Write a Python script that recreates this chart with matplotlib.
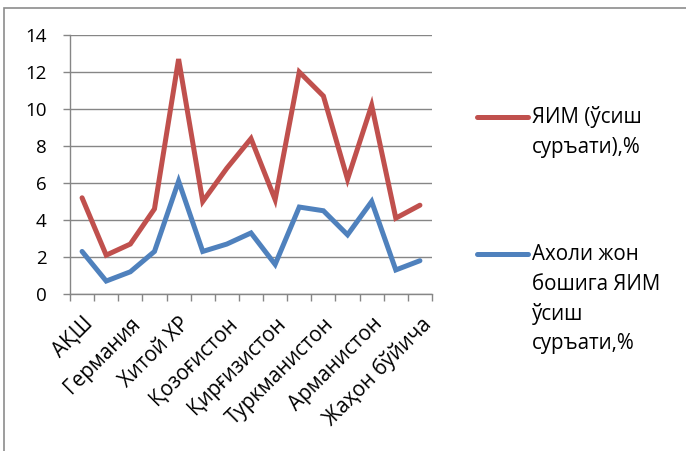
import matplotlib
matplotlib.use("Agg")
import matplotlib.pyplot as plt
from matplotlib.lines import Line2D
from matplotlib.patches import Rectangle
import numpy as np

plt.rcParams['font.family'] = ['Open Sans', 'DejaVu Sans']

# ---- data ----
n_points = 15
gdp_growth = [5.2, 2.1, 2.7, 4.6, 12.7, 5.0, 6.8, 8.4, 5.1, 12.0, 10.7, 6.2, 10.2, 4.1, 4.8]
gdp_pc_growth = [2.3, 0.7, 1.2, 2.3, 6.1, 2.3, 2.7, 3.3, 1.6, 4.7, 4.5, 3.2, 5.0, 1.3, 1.8]
shown_labels = ["АҚШ", "Германия", "Хитой ХР", "Қозоғистон", "Қирғизистон",
                "Туркманистон", "Арманистон", "Жаҳон бўйича"]
series_names = ["ЯИМ (ўсиш\nсуръати),%", "Ахоли жон\nбошига ЯИМ\nўсиш\nсуръати,%"]
y_ticks = [0, 2, 4, 6, 8, 10, 12, 14]

RED = "#C0504D"
BLUE = "#4F81BD"
GRID = "#868686"
FS_Y = 13.5
FS = 14.8

W, H = 686, 451
fig = plt.figure(figsize=(W / 100, H / 100), dpi=100)
ax = fig.add_axes([70 / W, 1 - 294 / H, (432 - 70) / W, (294 - 35) / H])

x = np.arange(n_points)
ax.plot(x, gdp_growth, color=RED, lw=3.6, solid_capstyle='round', solid_joinstyle='miter', zorder=3)
ax.plot(x, gdp_pc_growth, color=BLUE, lw=3.6, solid_capstyle='round', solid_joinstyle='miter', zorder=3)

ax.set_xlim(-0.5, n_points - 0.5)
ax.set_ylim(0, 14)
ax.set_yticks(y_ticks)
ax.set_yticklabels([str(v) for v in y_ticks], fontsize=FS_Y)
ax.yaxis.grid(True, color=GRID, lw=1.0)
ax.set_axisbelow(True)

# boundary ticks (major) without labels, category label ticks (minor)
ax.set_xticks(np.arange(-0.5, n_points, 1.0))
ax.set_xticklabels([])
ax.set_xticks(x[::2], minor=True)
ax.set_xticklabels(shown_labels, minor=True, rotation=45, ha='right',
                   rotation_mode='anchor', fontsize=FS)
ax.tick_params(axis='x', which='minor', length=0, pad=14)
ax.tick_params(axis='x', which='major', length=5, width=1.0, color=GRID, direction='out')
ax.tick_params(axis='y', length=5, width=1.0, color=GRID, direction='out', pad=12)

for s in ['top', 'right']:
    ax.spines[s].set_visible(False)
for s in ['left', 'bottom']:
    ax.spines[s].set_color(GRID)
    ax.spines[s].set_linewidth(1.0)

# outer chart frame (partially visible)
fig.add_artist(Rectangle((4 / W, -0.2), 1.2, 1.2 - 8 / H, transform=fig.transFigure,
                         fill=False, edgecolor="#8c8c8c", lw=1.2))

# legend drawn manually
def px(xp, yp):
    return xp / W, 1 - yp / H

colors = [RED, BLUE]
leg_y = [117, 254]
line_step = 30
for name, c, y0 in zip(series_names, colors, leg_y):
    (x1, y1), (x2, _) = px(477, y0), px(528, y0)
    fig.add_artist(Line2D([x1, x2], [y1, y1], color=c, lw=3.6,
                          solid_capstyle='round', transform=fig.transFigure))
    for i, line in enumerate(name.split("\n")):
        tx, ty = px(532, y0 + i * line_step)
        fig.text(tx, ty, line, fontsize=FS, va='center', ha='left')

fig.savefig("out.png", dpi=100)
